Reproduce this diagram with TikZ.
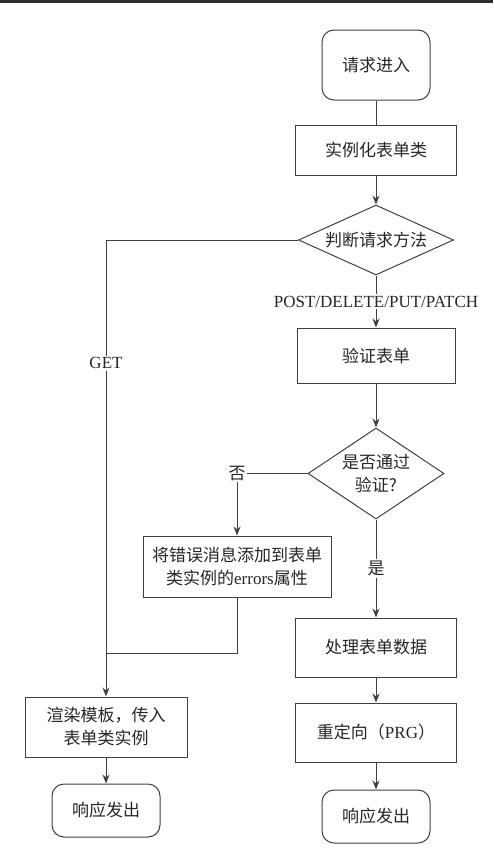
\documentclass[tikz,border=0pt]{standalone}
\usepackage{fontspec}
\setmainfont{Liberation Serif}
\newfontfamily\cjk{Noto Sans CJK SC}
\usetikzlibrary{arrows.meta, positioning, shapes.geometric}

\begin{document}
\begin{tikzpicture}[
    x=1pt, y=1pt,
    endpoint/.style={draw=black!75, rectangle, rounded corners=12pt, minimum width=108pt, minimum height=53pt, align=center, text=black!85, font=\cjk\fontsize{17}{23}\selectfont, line width=1pt},
    proc/.style={draw=black!75, rectangle, minimum width=161pt, minimum height=55pt, align=center, text=black!85, font=\cjk\fontsize{17}{23}\selectfont, line width=1pt},
    decide/.style={draw=black!75, diamond, inner sep=0pt, align=center, text=black!85, font=\cjk\fontsize{17}{23}\selectfont, line width=1pt},
    lbl/.style={fill=white, inner sep=2pt, text=black!85, font=\fontsize{17}{23}\selectfont},
    line/.style={draw=black!75, line width=1pt},
    arrow/.style={line, -{Stealth[length=9pt, width=7pt]}}
]
    % frame of the picture
    \useasboundingbox (0,0) rectangle (493,-862);
    \fill[black!82] (0,0) rectangle (493,-3);

    % right column
    \node[endpoint, minimum height=70pt] (start) at (376,-65) {请求进入};
    \node[proc, minimum height=50pt, below=24pt of start] (inst) {实例化表单类};
    \node[decide, minimum width=155pt, minimum height=70pt, aspect=2.2, below=29pt of inst] (method) {判断请求方法};
    \node[proc, minimum width=158pt, below=52pt of method] (validate) {验证表单};
    \node[decide, minimum width=136pt, minimum height=91pt, aspect=1.5, below=44pt of validate] (passed) {是否通过\\验证?};
    \node[proc, minimum height=59pt, below=98pt of passed] (process) {处理表单数据};
    \node[proc, minimum height=59pt, below=25pt of process] (redirect) {重定向（{\rmfamily PRG}）};
    \node[endpoint, below=27pt of redirect] (endR) {响应发出};

    % left column
    \node[proc, minimum width=188pt, minimum height=61pt] (error) at (237,-566.5) {将错误消息添加到表单\\类实例的{\rmfamily errors}属性};
    \node[lbl, inner sep=1pt] (no) at (error.north |- passed.west) {\cjk 否};
    \node[proc, minimum width=162pt, minimum height=60pt] (render) at (106,-727) {渲染模板，传入\\表单类实例};
    \node[endpoint, below=26pt of render] (endL) {响应发出};
    \coordinate (merge) at (render.north |- 0,-653);

    \draw[line] (start) -- (inst);
    \draw[arrow] (inst) -- (method);
    \draw[arrow] (method) -- (validate) node[lbl, midway] {POST/DELETE/PUT/PATCH};
    \draw[arrow] (method.west) -| (render.north) node[lbl, pos=0.635] {GET};
    \draw[arrow] (validate) -- (passed);
    \draw[line] (passed.west) -- (no);
    \draw[arrow] (no) -- (error);
    \draw[arrow] (passed) -- (process) node[lbl, midway] {\cjk 是};
    \draw[line] (error.south) |- (merge);
    \draw[arrow] (process) -- (redirect);
    \draw[arrow] (redirect) -- (endR);
    \draw[arrow] (render) -- (endL);
\end{tikzpicture}
\end{document}
